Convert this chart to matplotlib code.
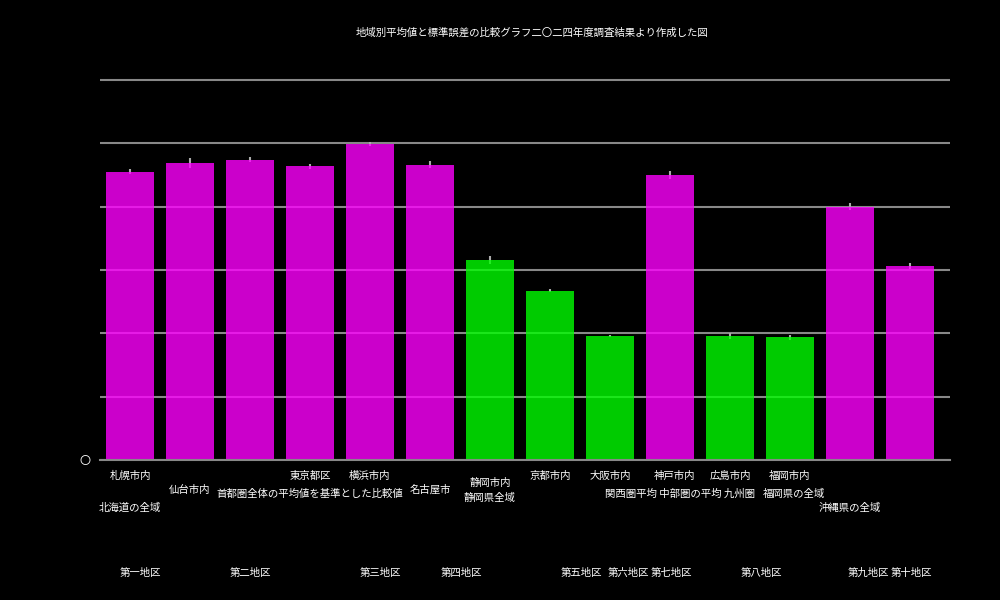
import matplotlib
matplotlib.use("Agg")
import matplotlib.pyplot as plt
import matplotlib.transforms as mtransforms
import numpy as np

plt.rcParams["font.family"] = ["Noto Sans CJK JP", "DejaVu Sans"]

# bar values and errors (one grid step = 1)
values = [4.55, 4.69, 4.74, 4.64, 4.99, 4.66, 3.16, 2.67, 1.96, 4.50, 1.96, 1.94, 4.00, 3.06]
errors = [0.04, 0.08, 0.04, 0.04, 0.035, 0.055, 0.06, 0.025, 0.02, 0.07, 0.05, 0.04, 0.06, 0.05]
groups = ["A", "A", "A", "A", "A", "A", "B", "B", "B", "A", "B", "B", "A", "A"]

title = "地域別平均値と標準誤差の比較グラフ二〇二四年度調査結果より作成した図"
ytick_labels = ["〇", "", "", "", "", "", ""]

# label rows under the axis
row1_labels = ["札幌市内", "東京都区", "横浜市内", "京都市内", "大阪市内", "神戸市内", "広島市内", "福岡市内"]
row2_labels = ["仙台市内", "名古屋市", "静岡市内"]
row3_labels = ["首都圏全体の平均値を基準とした比較値", "静岡県全域", "関西圏平均 中部圏の平均 九州圏", "福岡県の全域"]
row4_labels = ["北海道の全域", "沖縄県の全域"]
row5_labels = ["第一地区", "第二地区", "第三地区", "第四地区", "第五地区",
               "第六地区", "第七地区", "第八地区", "第九地区", "第十地区"]

# where the label rows sit (x in bar units, y in pixels from the top)
row1_x = [0, 3, 4, 7, 8, 9.08, 10, 11]
row2_x = [1, 5, 6]
row2_y = [490, 490, 483]
row3_x = [3, 6, 9.17, 11.07]
row3_y = [494, 498, 494, 494]
row4_x = [0, 12]
row5_x = [0.17, 2, 4.17, 5.53, 7.53, 8.3, 9.03, 10.53, 12.3, 13.03]

colors = {"A": "#ff00ff", "B": "#00ff00"}

fig = plt.figure(figsize=(10, 6), dpi=100, facecolor="black")
ax = fig.add_axes([0.1, 1 - 460 / 600, 0.85, (460 - 61) / 600])
ax.set_facecolor("black")

x = np.arange(len(values))
ax.errorbar(x, values, yerr=errors, fmt="none", ecolor="#aaaaaa", elinewidth=1.5, zorder=0.8)
ax.bar(x, values, width=0.8, color=[colors[g] for g in groups], alpha=0.8, zorder=1)

ax.set_xlim(-0.5, 13.667)
ax.set_ylim(0, 6.3)
ax.set_yticks(range(7))
ax.set_yticklabels(ytick_labels)
ax.set_xticks([])
ax.tick_params(axis="y", length=0, pad=7, colors="white", labelsize=8)
ax.set_axisbelow(True)
ax.yaxis.grid(True, color="#888888", linewidth=1.5)

for side in ["top", "left", "right"]:
    ax.spines[side].set_visible(False)
ax.spines["bottom"].set_color("#888888")
ax.spines["bottom"].set_linewidth(1.5)

trans = mtransforms.blended_transform_factory(ax.transData, fig.transFigure)


def put_row(xs, labels, ypix):
    if np.isscalar(ypix):
        ypix = [ypix] * len(xs)
    for xi, s, yp in zip(xs, labels, ypix):
        ax.text(xi, 1 - yp / 600, s, transform=trans, ha="center", va="center",
                color="white", fontsize=7.5, clip_on=False)


put_row(row1_x, row1_labels, 476)
put_row(row2_x, row2_labels, row2_y)
put_row(row3_x, row3_labels, row3_y)
put_row(row4_x, row4_labels, 508)
put_row(row5_x, row5_labels, 573)

fig.text(0.532, 1 - 33 / 600, title, ha="center", va="center", color="white", fontsize=7.5)

fig.savefig("out.png", dpi=100, facecolor="black")
